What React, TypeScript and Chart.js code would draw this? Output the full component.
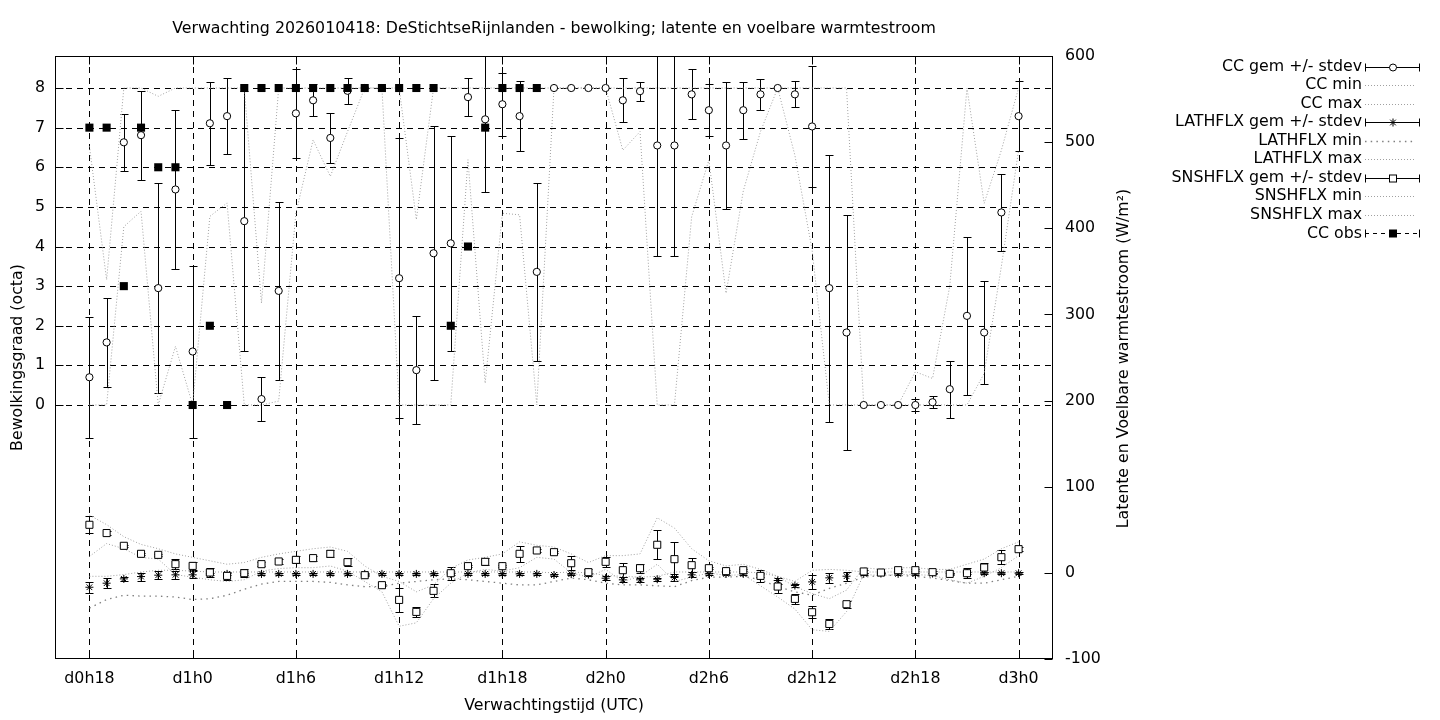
import React, { useEffect, useRef } from 'react';
import { Chart, registerables } from 'chart.js';

Chart.register(...registerables);

// Lead times (hours since d0h0)
const hours = [18, 19, 20, 21, 22, 23, 24, 25, 26, 27, 28, 29, 30, 31, 32, 33, 34, 35, 36, 37, 38, 39, 40, 41, 42, 43, 44, 45, 46, 47, 48, 49, 50, 51, 52, 53, 54, 55, 56, 57, 58, 59, 60, 61, 62, 63, 64, 65, 66, 67, 68, 69, 70, 71, 72];
const tickHours = [18, 24, 30, 36, 42, 48, 54, 60, 66, 72];
const tickLabels = ['d0h18', 'd1h0', 'd1h6', 'd1h12', 'd1h18', 'd2h0', 'd2h6', 'd2h12', 'd2h18', 'd3h0'];
const leftTicks = [0, 1, 2, 3, 4, 5, 6, 7, 8];
const leftTickLabels = ['0', '1', '2', '3', '4', '5', '6', '7', '8'];
const rightTicks = [-100, 0, 100, 200, 300, 400, 500, 600];
const rightTickLabels = ['-100', '0', '100', '200', '300', '400', '500', '600'];

// Cloud cover (octa)
const ccMean = [0.70, 1.58, 6.63, 6.81, 2.95, 5.44, 1.35, 7.11, 7.29, 4.64, 0.15, 2.88, 7.36, 7.69, 6.74, 7.93, 8, 8, 3.20, 0.88, 3.83, 4.08, 7.77, 7.21, 7.59, 7.29, 3.36, 8, 8, 8, 8, 7.69, 7.92, 6.55, 6.55, 7.84, 7.44, 6.55, 7.44, 7.84, 8, 7.84, 7.03, 2.95, 1.83, 0, 0, 0, 0, 0.07, 0.40, 2.25, 1.83, 4.86, 7.29];
const ccSd = [1.52, 1.13, 0.72, 1.12, 2.65, 2.0, 2.17, 1.05, 0.96, 3.28, 0.55, 2.24, 1.12, 0.40, 0.64, 0.33, 0, 0, 3.53, 1.36, 3.2, 2.72, 0.48, 1.84, 0.8, 0.88, 2.24, 0, 0, 0, 0, 0.56, 0.24, 2.8, 2.8, 0.63, 0.66, 1.6, 0.72, 0.4, 0, 0.33, 1.53, 3.37, 2.96, 0, 0, 0, 0.16, 0.15, 0.72, 2.0, 1.29, 0.97, 0.88];
const ccMin = [0, 0, 4.5, 4.89, 0, 1.48, 0, 4.76, 5.1, 0, 0, 0.1, 4.84, 6.69, 5.77, 6.9, 8, 8, 0, 0, 0, 0, 6.19, 0.55, 4.84, 4.8, 0, 8, 8, 8, 8, 6.43, 6.9, 0, 0, 4.75, 6.18, 2.82, 5.4, 6.9, 8, 6.3, 3.91, 0, 0, 0, 0, 0, 0, 0, 0, 0, 0.8, 3.5, 6.43];
const ccMax = [6.53, 3.16, 8, 8, 7.79, 8, 8, 8, 8, 8, 2.57, 8, 8, 8, 8, 8, 8, 8, 8, 4.68, 8, 8, 8, 8, 8, 8, 8, 8, 8, 8, 8, 8, 8, 8, 8, 8, 8, 8, 8, 8, 8, 8, 8, 8, 8, 0, 0, 0, 0.84, 0.67, 3.0, 8, 5.09, 6.43, 8];
const ccObs = [7, 7, 3, 7, 6, 6, 0, 2, 0, 8, 8, 8, 8, 8, 8, 8, 8, 8, 8, 8, 8, 2, 4, 7, 8, 8, 8, null, null, null, null, null, null, null, null, null, null, null, null, null, null, null, null, null, null, null, null, null, null, null, null, null, null, null, null];

// Latent heat flux (W/m2)
const lathMean = [-16.7, -12, -7, -4.3, -2.7, -2.3, -2.3, -1.2, -1.2, -1.2, -1.2, -1.2, -1.2, -1.2, -1.2, -1.2, -1.2, -1.2, -1.2, -1.2, -1.2, -1.2, -1.2, -1.2, -1.2, -1.2, -1.2, -2.5, -1.5, -2, -6.2, -8.1, -8.1, -7.4, -5.4, -2.3, -1.2, -1.2, -1.2, -2.3, -8.9, -14.7, -10.5, -5.8, -3.9, -1.2, -0.8, -1.2, -1.2, -0.8, -0.8, -0.5, -0.4, -0.4, -0.4];
const lathSd = [6.5, 6, 2, 4.6, 5, 5, 4, 1.5, 1.5, 1.5, 1.5, 1.5, 1.5, 1.5, 1.5, 1.5, 1.5, 1.5, 1.5, 1.5, 1.5, 1.5, 1.5, 1.5, 1.5, 1.5, 1.5, 1.5, 1.5, 1.5, 2, 3, 2, 2, 4, 3, 1.5, 1, 1, 2, 3.5, 2, 8, 6, 5, 1, 1, 1, 1, 1, 1, 1, 1, 1, 1];
const lathMin = [-41, -31, -26, -27, -27, -28, -31, -30, -26, -19, -13, -10, -10, -10, -11, -14, -16, -16, -12, -10, -8, -7, -8, -10, -12, -14, -14, -10, -6, -8, -12, -14, -14, -15, -16, -9, -5, -5, -4, -8, -16, -22, -26, -18, -12, -5, -3, -3, -4, -6, -9, -12, -12, -8, -4];
const lathMax = [-4, -4, -2, 1, 3, 3, 2, 1, 1, 1, 1, 1, 1, 1, 1, 1, 1, 1, 1, 1, 1, 1, 1, 1, 1, 1, 1, 0, 1, 0, -3, -4, -5, -4, 1, 1, 1, 1, 1, 0, -4, -10, 3, 4, 3, 1, 1, 1, 1, 1, 1, 1, 1, 1, 1];

// Sensible heat flux (W/m2)
const snsMean = [55.8, 46.2, 31.4, 22.1, 20.9, 10.1, 8.1, 0.4, -3.5, -0.4, 10.1, 13.2, 15.1, 17.1, 22.1, 12.4, -2.7, -14.3, -31.4, -45.3, -20.9, -0.4, 7.8, 12.8, 7.8, 22.1, 26, 24, 11.2, 0.8, 12.8, 3.1, 5.4, 32.6, 15.9, 8.9, 5.4, 2, 3.1, -3.5, -15.9, -30.2, -45.7, -59.3, -36.4, 1.6, 0.4, 3.1, 3.1, 0.8, -1.2, -0.4, 6.2, 18.2, 27.5];
const snsSd = [9.7, 2, 1.5, 1.5, 1.5, 5.8, 5, 5, 4.5, 4.5, 2, 3, 4, 3, 4, 5, 1.5, 1.5, 14, 6, 7.5, 7.4, 1.5, 4, 1.5, 9, 2, 1.5, 7.8, 4, 6, 8, 5, 16.6, 20, 8, 1.5, 1.5, 1.5, 7, 8, 6, 7, 6, 4, 1.5, 1, 1.5, 1.5, 1, 1, 6, 5, 8, 2];
const snsMin = [19, 34, 28, 18, 16, -2, -5, -8, -10, -8, 2, 5, 6, 6, 8, 2, -10, -22, -62, -58, -30, -12, 0, 4, 2, 6, 18, 16, 0, -5, 4, -10, -4, 10, -10, -5, 0, -3, -2, -15, -28, -42, -66, -68, -45, -2, -3, -2, -2, -3, -8, -12, -4, 6, 20];
const snsMax = [67, 56, 42, 33, 28, 22, 18, 14, 10, 12, 18, 22, 25, 28, 30, 25, 8, -4, -10, -22, -14, 5, 15, 18, 22, 36, 32, 30, 22, 12, 20, 20, 22, 64, 52, 28, 14, 8, 10, 4, -4, -16, -24, -30, -20, 6, 4, 6, 6, 4, 4, 10, 16, 28, 36];

const titleText = 'Verwachting 2026010418: DeStichtseRijnlanden - bewolking; latente en voelbare warmtestroom';
const xTitle = 'Verwachtingstijd (UTC)';
const yLeftTitle = 'Bewolkingsgraad (octa)';
const yRightTitle = 'Latente en Voelbare warmtestroom (W/m\u00b2)';
const legendLabels = ['CC gem +/- stdev', 'CC min', 'CC max', 'LATHFLX gem +/- stdev', 'LATHFLX min', 'LATHFLX max', 'SNSHFLX gem +/- stdev', 'SNSHFLX min', 'SNSHFLX max', 'CC obs'];
const legendKinds = ['errCircle', 'dot', 'dot', 'errStar', 'sparse', 'dot', 'errSquare', 'dot', 'dot', 'obs'];

const FONT = '15.8px "DejaVu Sans", sans-serif';
const DOT_COLOR = '#a0a0a0';
const DOT_DASH = [1, 2];
const SPARSE_COLOR = '#808080';
const SPARSE_DASH = [1.5, 4.2];

const toXY = (vals: (number | null)[]) => vals.map((v, i) => ({ x: hours[i], y: v }));

function drawErrorBars(ctx: CanvasRenderingContext2D, xs: any, ys: any, mean: number[], sd: number[]) {
  const cap = 4;
  ctx.beginPath();
  mean.forEach((m, i) => {
    if (m == null) return;
    const px = Math.round(xs.getPixelForValue(hours[i])) + 0.5;
    const t = Math.round(ys.getPixelForValue(m + sd[i])) + 0.5;
    const b = Math.round(ys.getPixelForValue(m - sd[i])) + 0.5;
    ctx.moveTo(px, t); ctx.lineTo(px, b);
    ctx.moveTo(px - cap, t); ctx.lineTo(px + cap, t);
    ctx.moveTo(px - cap, b); ctx.lineTo(px + cap, b);
  });
  ctx.stroke();
}

function drawMarker(ctx: CanvasRenderingContext2D, kind: string, x: number, y: number) {
  ctx.save();
  ctx.setLineDash([]);
  ctx.strokeStyle = '#000';
  ctx.lineWidth = 1;
  if (kind === 'circle') {
    ctx.beginPath(); ctx.arc(x, y, 3.5, 0, Math.PI * 2);
    ctx.fillStyle = '#fff'; ctx.fill(); ctx.stroke();
  } else if (kind === 'square') {
    ctx.fillStyle = '#fff';
    ctx.fillRect(x - 3.5, y - 3.5, 7, 7); ctx.strokeRect(x - 3.5, y - 3.5, 7, 7);
  } else if (kind === 'obs') {
    ctx.fillStyle = '#000'; ctx.fillRect(x - 4, y - 4, 8, 8);
  } else if (kind === 'star') {
    const r = 4, d = r * Math.SQRT1_2;
    ctx.beginPath();
    ctx.moveTo(x - r, y); ctx.lineTo(x + r, y);
    ctx.moveTo(x, y - r); ctx.lineTo(x, y + r);
    ctx.moveTo(x - d, y - d); ctx.lineTo(x + d, y + d);
    ctx.moveTo(x - d, y + d); ctx.lineTo(x + d, y - d);
    ctx.stroke();
  }
  ctx.restore();
}

const gnuplotPlugin = {
  id: 'gnuplotLook',
  beforeDatasetsDraw(chart: any) {
    const { ctx, chartArea: a, scales } = chart;
    const xs = scales.x, yL = scales.yL, yR = scales.yR;
    ctx.save();
    ctx.strokeStyle = '#000';
    ctx.lineWidth = 1;
    ctx.setLineDash([6, 5]);
    ctx.beginPath();
    leftTicks.forEach((v) => {
      const py = Math.round(yL.getPixelForValue(v)) + 0.5;
      ctx.moveTo(a.left, py); ctx.lineTo(a.right, py);
    });
    ctx.stroke();
    ctx.beginPath();
    tickHours.forEach((h) => {
      const px = Math.round(xs.getPixelForValue(h)) + 0.5;
      ctx.moveTo(px, a.top); ctx.lineTo(px, a.bottom);
    });
    ctx.stroke();
    ctx.setLineDash([]);
    ctx.beginPath();
    ctx.rect(a.left, a.top, a.right - a.left, a.bottom - a.top);
    ctx.clip();
    drawErrorBars(ctx, xs, yL, ccMean, ccSd);
    drawErrorBars(ctx, xs, yR, lathMean, lathSd);
    drawErrorBars(ctx, xs, yR, snsMean, snsSd);
    ctx.restore();
  },
  afterDraw(chart: any) {
    const { ctx, chartArea: a, scales } = chart;
    const xs = scales.x, yL = scales.yL, yR = scales.yR;
    ctx.save();
    ctx.strokeStyle = '#000';
    ctx.fillStyle = '#000';
    ctx.lineWidth = 1;
    ctx.setLineDash([]);
    const L = Math.round(a.left) + 0.5, R = Math.round(a.right) - 0.5;
    const T = Math.round(a.top) + 0.5, B = Math.round(a.bottom) - 0.5;
    ctx.strokeRect(L, T, R - L, B - T);
    const tl = 8;
    ctx.beginPath();
    leftTicks.forEach((v) => {
      const py = Math.round(yL.getPixelForValue(v)) + 0.5;
      ctx.moveTo(L, py); ctx.lineTo(L + tl, py);
    });
    rightTicks.forEach((v) => {
      const py = Math.round(yR.getPixelForValue(v)) + 0.5;
      ctx.moveTo(R, py); ctx.lineTo(R - tl, py);
    });
    tickHours.forEach((h) => {
      const px = Math.round(xs.getPixelForValue(h)) + 0.5;
      ctx.moveTo(px, B); ctx.lineTo(px, B - tl);
      ctx.moveTo(px, T); ctx.lineTo(px, T + tl);
    });
    ctx.stroke();
    ctx.font = FONT;
    ctx.textBaseline = 'middle';
    ctx.textAlign = 'right';
    leftTicks.forEach((v, i) => ctx.fillText(leftTickLabels[i], a.left - 10, yL.getPixelForValue(v)));
    ctx.textAlign = 'left';
    rightTicks.forEach((v, i) => ctx.fillText(rightTickLabels[i], a.right + 12, yR.getPixelForValue(v)));
    ctx.textAlign = 'center';
    tickHours.forEach((h, i) => ctx.fillText(tickLabels[i], xs.getPixelForValue(h), a.bottom + 20));
    const cx = (a.left + a.right) / 2;
    ctx.fillText(titleText, cx, 29);
    ctx.fillText(xTitle, cx, 706);
    ctx.save();
    ctx.translate(18, (a.top + a.bottom) / 2);
    ctx.rotate(-Math.PI / 2);
    ctx.fillText(yLeftTitle, 0, 0);
    ctx.restore();
    ctx.save();
    ctx.translate(1124, (a.top + a.bottom) / 2 + 1);
    ctx.rotate(-Math.PI / 2);
    ctx.fillText(yRightTitle, 0, 0);
    ctx.restore();
    const textRight = 1362, s0 = 1365, s1 = 1420, sm = 1393;
    legendLabels.forEach((lab, i) => {
      const y = 66.5 + i * 18.55;
      const yy = Math.round(y) + 0.5;
      ctx.textAlign = 'right';
      ctx.fillStyle = '#000';
      ctx.fillText(lab, textRight, y);
      const k = legendKinds[i];
      ctx.save();
      if (k.startsWith('err') || k === 'obs') {
        ctx.strokeStyle = '#000';
        ctx.lineWidth = 1;
        ctx.setLineDash(k === 'obs' ? [4, 4] : []);
        ctx.beginPath(); ctx.moveTo(s0, yy); ctx.lineTo(s1, yy); ctx.stroke();
        ctx.setLineDash([]);
        ctx.beginPath();
        ctx.moveTo(s0 + 0.5, yy - 4); ctx.lineTo(s0 + 0.5, yy + 4);
        ctx.moveTo(s1 - 0.5, yy - 4); ctx.lineTo(s1 - 0.5, yy + 4);
        ctx.stroke();
        const mk = k === 'errCircle' ? 'circle' : k === 'errStar' ? 'star' : k === 'errSquare' ? 'square' : 'obs';
        drawMarker(ctx, mk, sm, yy);
      } else {
        ctx.strokeStyle = k === 'sparse' ? SPARSE_COLOR : DOT_COLOR;
        ctx.lineWidth = k === 'sparse' ? 1.3 : 1;
        ctx.setLineDash(k === 'sparse' ? SPARSE_DASH : DOT_DASH);
        ctx.beginPath(); ctx.moveTo(s0, yy); ctx.lineTo(s1 - 5, yy); ctx.stroke();
      }
      ctx.restore();
    });
    ctx.restore();
  },
};

function dottedSet(label: string, vals: number[], axis: string, sparse = false) {
  return {
    label,
    data: toXY(vals),
    yAxisID: axis,
    showLine: true,
    borderColor: sparse ? SPARSE_COLOR : DOT_COLOR,
    borderWidth: sparse ? 1.3 : 1,
    borderDash: sparse ? SPARSE_DASH : DOT_DASH,
    pointRadius: 0,
    fill: false,
    tension: 0,
    order: 10,
  };
}

export default function App() {
  const ref = useRef<HTMLCanvasElement>(null);
  useEffect(() => {
    if (!ref.current) return;
    const chart = new Chart(ref.current, {
      type: 'line',
      data: {
        datasets: [
          {
            label: 'CC obs', data: toXY(ccObs), yAxisID: 'yL', showLine: false,
            pointStyle: 'rect', pointRadius: 5.7, pointBackgroundColor: '#000', pointBorderColor: '#000', pointBorderWidth: 0, order: 0,
          },
          {
            label: 'SNSHFLX gem +/- stdev', data: toXY(snsMean), yAxisID: 'yR', showLine: false,
            pointStyle: 'rect', pointRadius: 5.0, pointBackgroundColor: '#fff', pointBorderColor: '#000', pointBorderWidth: 1, order: 1,
          },
          {
            label: 'LATHFLX gem +/- stdev', data: toXY(lathMean), yAxisID: 'yR', showLine: false,
            pointStyle: 'star', pointRadius: 4, pointBackgroundColor: '#000', pointBorderColor: '#000', pointBorderWidth: 1, order: 2,
          },
          {
            label: 'CC gem +/- stdev', data: toXY(ccMean), yAxisID: 'yL', showLine: false,
            pointStyle: 'circle', pointRadius: 3.6, pointBackgroundColor: '#fff', pointBorderColor: '#000', pointBorderWidth: 1, order: 3,
          },
          dottedSet('CC min', ccMin, 'yL'),
          dottedSet('CC max', ccMax, 'yL'),
          dottedSet('LATHFLX min', lathMin, 'yR', true),
          dottedSet('LATHFLX max', lathMax, 'yR'),
          dottedSet('SNSHFLX min', snsMin, 'yR'),
          dottedSet('SNSHFLX max', snsMax, 'yR'),
        ] as any,
      },
      options: {
        responsive: false,
        animation: false,
        devicePixelRatio: 1,
        events: [],
        layout: { padding: { left: 55, right: 387, top: 56, bottom: 61 } },
        plugins: { legend: { display: false }, tooltip: { enabled: false }, title: { display: false } },
        scales: {
          x: { type: 'linear', min: 16, max: 74, display: false },
          yL: { type: 'linear', position: 'left', min: -6.41, max: 8.808, display: false },
          yR: { type: 'linear', position: 'right', min: -100, max: 600, display: false },
        },
      } as any,
      plugins: [gnuplotPlugin],
    });
    return () => chart.destroy();
  }, []);
  return (
    <div style={{ position: 'fixed', left: 0, top: 0, width: 1440, height: 720, background: '#fff' }}>
      <canvas ref={ref} width={1440} height={720} style={{ display: 'block', width: 1440, height: 720 }} />
    </div>
  );
}
